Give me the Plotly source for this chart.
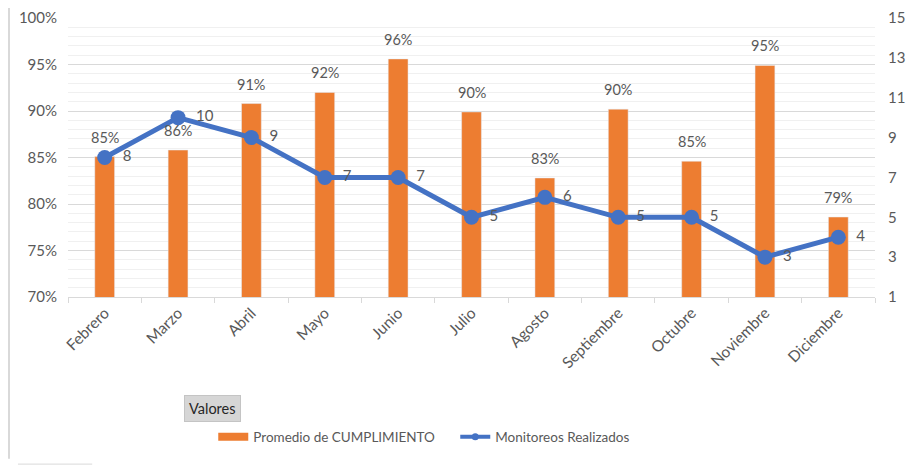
import plotly.graph_objects as go

meses = ['Febrero', 'Marzo', 'Abril', 'Mayo', 'Junio', 'Julio', 'Agosto',
         'Septiembre', 'Octubre', 'Noviembre', 'Diciembre']
cumplimiento = [0.851, 0.858, 0.908, 0.920, 0.956, 0.899, 0.828,
                0.902, 0.846, 0.949, 0.786]
monitoreos = [8, 10, 9, 7, 7, 5, 6, 5, 5, 3, 4]

gris = '#595959'
naranja = '#ED7D31'
azul = '#4472C4'
fuente = 'Lato'

fig = go.Figure()
fig.add_trace(go.Bar(x=meses, y=cumplimiento,
                     name='Promedio de CUMPLIMIENTO',
                     marker_color=naranja,
                     width=0.27,
                     showlegend=False,
                     cliponaxis=False))
fig.add_trace(go.Scatter(x=meses, y=monitoreos,
                         name='Monitoreos Realizados',
                         yaxis='y2',
                         mode='lines+markers+text',
                         showlegend=False,
                         line=dict(color=azul, width=5),
                         marker=dict(size=15, color=azul),
                         text=['  ' + str(v) for v in monitoreos],
                         textposition='middle right',
                         textfont=dict(size=15, color=gris),
                         cliponaxis=False))

# etiquetas de las barras
for mes, v in zip(meses, cumplimiento):
    fig.add_annotation(x=mes, y=v, text=f'{v:.0%}', showarrow=False,
                       yanchor='bottom', yshift=9,
                       font=dict(size=14.5, color=gris))

# entradas de leyenda (estilo Excel)
fig.add_trace(go.Scatter(x=[None], y=[None], mode='lines',
                         name='Promedio de CUMPLIMIENTO',
                         line=dict(color=naranja, width=8)))
fig.add_trace(go.Scatter(x=[None], y=[None], mode='lines+markers',
                         name='Monitoreos Realizados',
                         line=dict(color=azul, width=4),
                         marker=dict(size=7, color=azul)))

# la página añade 8 px de margen, por eso el lienzo es más pequeño
fig.update_layout(
    width=913, height=458,
    margin=dict(l=60, r=46, t=10, b=169, autoexpand=False),
    paper_bgcolor='white', plot_bgcolor='white',
    font=dict(family=fuente, size=14, color=gris),
    showlegend=True,
    bargap=0.73,
    legend=dict(orientation='h', x=0.18, y=-0.502, xanchor='left',
                yanchor='middle', font=dict(size=13.5, color=gris),
                itemwidth=30, tracegroupgap=0,
                entrywidth=197, entrywidthmode='pixels'),
    xaxis=dict(range=[-0.5, len(meses) - 0.5],
               showline=True, linecolor='#d9d9d9', ticks='outside',
               tickson='boundaries', tickcolor='#d9d9d9', ticklen=5,
               tickangle=-45, automargin=False,
               tickfont=dict(size=15.5, color=gris)),
    yaxis=dict(range=[0.70, 1.00], dtick=0.05, tickformat='.0%',
               showgrid=True, gridcolor='#d9d9d9', gridwidth=1,
               minor=dict(dtick=0.01, showgrid=True, gridcolor='#f0f0f0'),
               zeroline=False, ticks='', automargin=False,
               ticklabelstandoff=10,
               tickfont=dict(size=15, color=gris)),
    yaxis2=dict(range=[1, 15], tick0=1, dtick=2, overlaying='y', side='right',
                showgrid=False, zeroline=False, automargin=False,
                ticklabelstandoff=12,
                tickfont=dict(size=15, color=gris)),
)

fig.add_annotation(text='Valores', xref='paper', yref='paper',
                   x=0.179, y=-0.398, xanchor='center', yanchor='middle',
                   showarrow=False,
                   font=dict(size=14.5, color='#262626'),
                   bgcolor='#d6d6d6', bordercolor='#c4c4c4', borderwidth=1,
                   borderpad=4)

# marco
for xp in (-0.0731, 1.05):
    fig.add_shape(type='line', xref='paper', yref='paper',
                  x0=xp, x1=xp, y0=-0.58, y1=1.04,
                  line=dict(color='#d9d9d9', width=2))
fig.add_shape(type='line', xref='paper', yref='paper',
              x0=-0.062, x1=0.030, y0=-0.599, y1=-0.599,
              line=dict(color='#d9d9d9', width=1))

fig.write_html('out.html')
